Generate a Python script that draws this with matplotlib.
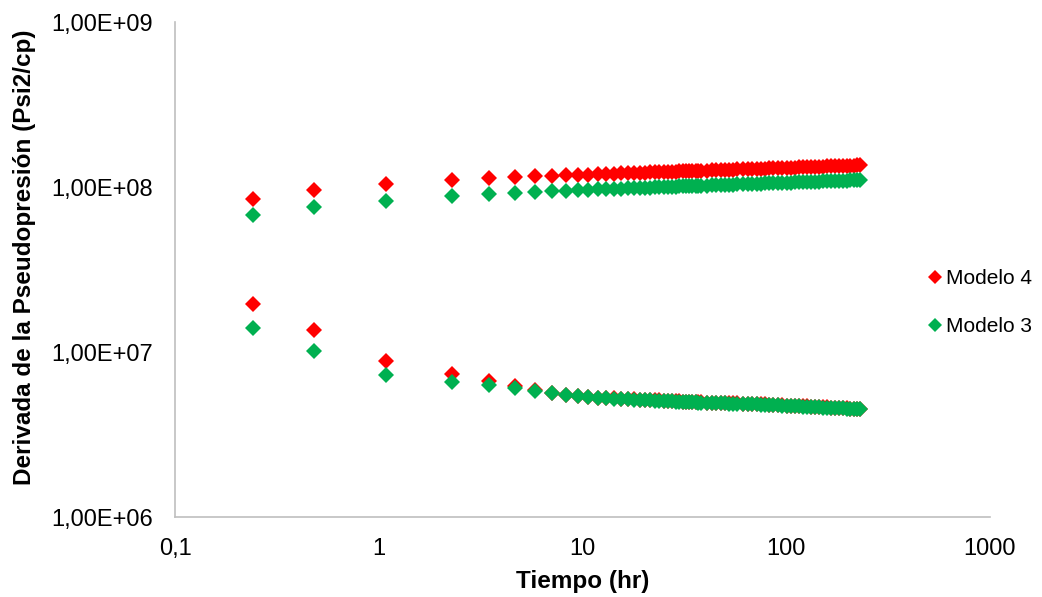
import numpy as np
import matplotlib
matplotlib.use("Agg")
import matplotlib.pyplot as plt
from matplotlib.ticker import FixedLocator, FuncFormatter

# Time (hr)
tiempo = [0.24, 0.48, 1.08, 2.28, 3.48, 4.68, 5.88, 7.08, 8.28, 9.48,
          10.68, 11.88, 13.08, 14.28, 15.48, 16.68, 17.88, 19.08, 20.28, 21.48,
          22.68, 23.88, 25.08, 26.28, 27.48, 28.68, 29.88, 31.08, 32.28, 33.48,
          34.68, 35.88, 37.08, 38.28, 40.68, 43.08, 45.48, 47.88, 50.28, 52.68,
          55.08, 57.48, 61.08, 64.68, 68.28, 71.88, 75.48, 79.08, 82.68, 86.28,
          91.08, 95.88, 100.68, 105.48, 110.28, 115.08, 121.08, 127.08, 133.08, 139.08,
          145.08, 152.28, 159.48, 166.68, 173.88, 181.08, 189.48, 197.88, 206.28, 214.68,
          223.08, 231.48]

# values in millions (Psi2/cp)
m4_superior = [84.6, 95.9, 104, 110, 113, 115, 116.5, 117.1, 117.9, 118.5,
               119.1, 119.7, 120.1, 120.6, 121.0, 121.4, 121.7, 122.0, 122.3, 122.6,
               122.9, 123.2, 123.4, 123.7, 123.9, 124.1, 124.3, 124.5, 124.7, 124.9,
               125.1, 125.3, 125.4, 125.6, 125.9, 126.2, 126.5, 126.8, 127.0, 127.3,
               127.5, 127.8, 128.1, 128.4, 128.7, 129.0, 129.2, 129.5, 129.7, 129.9,
               130.2, 130.5, 130.8, 131.0, 131.3, 131.5, 131.8, 132.0, 132.3, 132.5,
               132.8, 133.0, 133.3, 133.5, 133.8, 134.0, 134.3, 134.5, 134.7, 135.0,
               135.2, 135.4]
m4_inferior = [19.5, 13.6, 8.81, 7.36, 6.67, 6.22, 5.89, 5.65, 5.50, 5.43,
               5.35, 5.30, 5.26, 5.235, 5.21, 5.19, 5.17, 5.15, 5.135, 5.12,
               5.10, 5.09, 5.07, 5.06, 5.05, 5.03, 5.02, 5.01, 5.00, 4.99,
               4.98, 4.97, 4.96, 4.95, 4.935, 4.927, 4.92, 4.91, 4.90, 4.89,
               4.885, 4.88, 4.86, 4.85, 4.84, 4.83, 4.82, 4.81, 4.80, 4.78,
               4.77, 4.76, 4.74, 4.73, 4.72, 4.71, 4.69, 4.68, 4.67, 4.65,
               4.64, 4.63, 4.62, 4.60, 4.59, 4.58, 4.57, 4.56, 4.545, 4.535,
               4.525, 4.515]
m3_superior = [67.6, 75.7, 82.2, 88.1, 90.7, 92.0, 93.3, 94.6, 95.3, 95.8,
               96.3, 96.8, 97.2, 97.6, 97.9, 98.2, 98.5, 98.8, 99.1, 99.3,
               99.6, 99.8, 100.0, 100.2, 100.4, 100.6, 100.8, 101.0, 101.1, 101.3,
               101.4, 101.6, 101.8, 101.9, 102.2, 102.4, 102.7, 102.9, 103.1, 103.3,
               103.5, 103.7, 104.0, 104.3, 104.5, 104.8, 105.0, 105.2, 105.4, 105.6,
               105.9, 106.1, 106.3, 106.5, 106.7, 106.9, 107.2, 107.4, 107.6, 107.8,
               108.0, 108.3, 108.5, 108.7, 108.9, 109.1, 109.3, 109.5, 109.7, 109.9,
               110.1, 110.3]
m3_inferior = [14.0, 10.1, 7.26, 6.58, 6.31, 6.05, 5.81, 5.62, 5.48, 5.41,
               5.33, 5.28, 5.24, 5.215, 5.19, 5.17, 5.15, 5.13, 5.115, 5.10,
               5.08, 5.07, 5.05, 5.04, 5.03, 5.01, 5.00, 4.99, 4.98, 4.97,
               4.96, 4.95, 4.94, 4.93, 4.915, 4.907, 4.90, 4.89, 4.88, 4.87,
               4.865, 4.86, 4.84, 4.83, 4.82, 4.81, 4.80, 4.79, 4.78, 4.76,
               4.75, 4.74, 4.72, 4.71, 4.70, 4.69, 4.67, 4.66, 4.65, 4.63,
               4.62, 4.61, 4.60, 4.58, 4.57, 4.56, 4.55, 4.54, 4.525, 4.515,
               4.505, 4.495]

x_ticks = [0.1, 1, 10, 100, 1000]
x_labels = ["0,1", "1", "10", "100", "1000"]
y_ticks = [1e6, 1e7, 1e8, 1e9]
y_labels = ["1,00E+06", "1,00E+07", "1,00E+08", "1,00E+09"]

plt.rcParams['font.family'] = ['Liberation Sans', 'DejaVu Sans']

fig = plt.figure(figsize=(10.42, 5.97), dpi=100)
ax = fig.add_axes([0.168, 0.134, 0.782, 0.829])

escala = 1e6
t = np.array(tiempo)
red = "#FF0000"
green = "#00B050"
ms = 7.8
ax.plot(t, np.array(m4_superior) * escala, 'D', color=red, ms=ms, mew=0, label="Modelo 4")
ax.plot(t, np.array(m4_inferior) * escala, 'D', color=red, ms=ms, mew=0)
ax.plot(t, np.array(m3_superior) * escala, 'D', color=green, ms=ms, mew=0, label="Modelo 3")
ax.plot(t, np.array(m3_inferior) * escala, 'D', color=green, ms=ms, mew=0)

ax.set_xscale('log')
ax.set_yscale('log')
ax.set_xlim(0.1, 1000)
ax.set_ylim(1e6, 1e9)
ax.xaxis.set_major_locator(FixedLocator(x_ticks))
ax.xaxis.set_major_formatter(FuncFormatter(lambda v, p: x_labels[x_ticks.index(v)] if v in x_ticks else ""))
ax.yaxis.set_major_locator(FixedLocator(y_ticks))
ax.yaxis.set_major_formatter(FuncFormatter(lambda v, p: y_labels[y_ticks.index(v)] if v in y_ticks else ""))
ax.xaxis.set_minor_locator(FixedLocator([]))
ax.yaxis.set_minor_locator(FixedLocator([]))
ax.tick_params(axis='both', length=0, labelsize=17, colors='#000000')
ax.tick_params(axis='x', pad=15)
ax.tick_params(axis='y', pad=16)

for s in ['top', 'right']:
    ax.spines[s].set_visible(False)
for s in ['left', 'bottom']:
    ax.spines[s].set_color('#BFBFBF')
    ax.spines[s].set_linewidth(1.2)

ax.set_xlabel("Tiempo (hr)", fontsize=17.5, fontweight='bold', labelpad=7)
ax.set_ylabel("Derivada de la Pseudopresión (Psi2/cp)", fontsize=17.5, fontweight='bold', labelpad=11)
ax.yaxis.label.set_y(0.524)

leg = fig.legend(loc='center left', bbox_to_anchor=(0.868, 0.493), frameon=False,
                 fontsize=15, handletextpad=0.0, labelspacing=1.38, markerscale=0.9,
                 handlelength=1.1)

fig.savefig("out.png", dpi=100)
